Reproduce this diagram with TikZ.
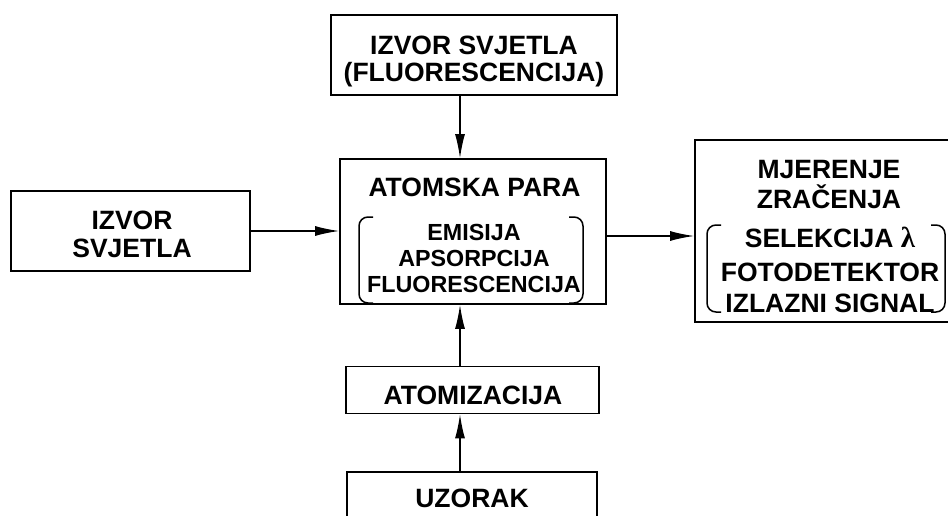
\documentclass[tikz,border=0pt]{standalone}
\usepackage{fontspec}
\setmainfont{Liberation Sans}
\newfontfamily\lamfont{Liberation Serif}
\usetikzlibrary{arrows.meta}
\begin{document}
\begin{tikzpicture}[x=1pt,y=-1pt,
  box/.style={draw,line width=1.7pt,inner sep=0pt},
  txt/.style={font=\fontsize{23.3}{26}\selectfont\bfseries,inner sep=0pt,anchor=center},
  htxt/.style={font=\fontsize{26.5}{28}\selectfont\bfseries,inner sep=0pt,anchor=center},
  arr/.style={line width=1.4pt,-{Latex[length=24pt,width=10pt]}},
  brk/.style={line width=1.5pt,rounded corners=9pt}]
\useasboundingbox (0,0) rectangle (948,516);
\clip (0,0) rectangle (948,516);
% boxes
\node[box,minimum width=286pt,minimum height=80pt] (top) at (474,55) {};
\node[box,minimum width=266pt,minimum height=145pt] (mid) at (473,231.5) {};
\node[box,minimum width=239pt,minimum height=80pt] (left) at (130.5,231) {};
\node[box,minimum width=290pt,minimum height=182pt] (right) at (840,231) {};
\node[box,minimum width=253pt,minimum height=47pt] (atom) at (472.5,390) {};
\node[box,minimum width=250pt,minimum height=80pt] (uzor) at (472,512) {};
% texts
\node[htxt] (t1) at (474,45) {IZVOR SVJETLA};
\node[htxt] (t2) at (474,75) {(FLUORESCENCIJA)};
\node[htxt] (m0) at (474.5,187) {ATOMSKA PARA};
\node[txt] (m1) at (474,232) {EMISIJA};
\node[txt] (m2) at (474,258) {APSORPCIJA};
\node[txt] (m3) at (474,284) {FLUORESCENCIJA};
\node[htxt] (l1) at (132,220) {IZVOR};
\node[htxt] (l2) at (132,248) {SVJETLA};
\node[htxt] (r1) at (829,170) {MJERENJE};
\node[htxt] (r2) at (829,197) {ZRAČENJA};
\node[htxt] (r3) at (830,237) {SELEKCIJA {\lamfont\fontsize{29}{30}\selectfont λ}};
\node[htxt] (r4) at (830,272) {FOTODETEKTOR};
\node[htxt] (r5) at (830,303) {IZLAZNI SIGNAL};
\node[htxt] (a1) at (473,395) {ATOMIZACIJA};
\node[htxt] (u1) at (472,498) {UZORAK};
% brackets
\draw[brk] (373,217) -- (359,217) -- (359,303) -- (373,303);
\draw[brk] (569,217) -- (583,217) -- (583,303) -- (569,303);
\draw[brk] (721,225) -- (707,225) -- (707,312) -- (721,312);
\draw[brk] (931,225) -- (945,225) -- (945,312) -- (931,312);
% arrows
\draw[arr] (top.south -| 460,0) -- (mid.north -| 460,0);
\draw[arr] (left.east) -- (left.east -| mid.west);
\draw[arr] (mid.east |- 0,236) -- (right.west |- 0,236);
\draw[arr] (atom.north -| 460,0) -- (mid.south -| 460,0);
\draw[arr] (uzor.north -| 460,0) -- (atom.south -| 460,0);
\end{tikzpicture}
\end{document}
